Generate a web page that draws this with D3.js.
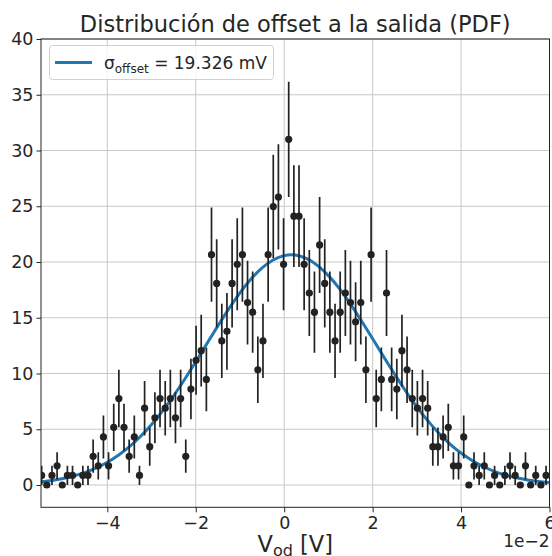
<!DOCTYPE html>
<html><head><meta charset="utf-8">
<script src="https://cdn.jsdelivr.net/npm/d3@7"></script>
<style>
body{margin:0;background:#fff;}
text{font-family:"DejaVu Sans",sans-serif;fill:#262626;}
</style></head>
<body><svg id="chart" width="552" height="556"></svg>
<script>
// Bin centres (mV)
const binCenters = [-54.85,-53.69,-52.52,-51.36,-50.19,-49.03,-47.87,-46.70,-45.54,-44.37,
-43.21,-42.05,-40.88,-39.72,-38.55,-37.39,-36.23,-35.06,-33.90,-32.73,
-31.57,-30.41,-29.24,-28.08,-26.91,-25.75,-24.59,-23.42,-22.26,-21.09,
-19.93,-18.77,-17.60,-16.44,-15.27,-14.11,-12.95,-11.78,-10.62,-9.45,
-8.29,-7.13,-5.96,-4.80,-3.63,-2.47,-1.31,-0.14,1.02,2.19,
3.35,4.51,5.68,6.84,8.01,9.17,10.33,11.50,12.66,13.83,
14.99,16.15,17.32,18.48,19.65,20.81,21.97,23.14,24.30,25.47,
26.63,27.79,28.96,30.12,31.29,32.45,33.61,34.78,35.94,37.11,
38.27,39.43,40.60,41.76,42.93,44.09,45.25,46.42,47.58,48.75,
49.91,51.07,52.24,53.40,54.57,55.73,56.89,58.06,59.22];
// PDF values
const pdfValues = [0.86,0,0.86,1.72,0,0.86,0.86,0,0.86,0.86,
2.58,1.72,4.31,1.72,5.17,7.75,5.17,2.58,4.31,0.86,
6.89,3.44,6.03,7.75,6.89,7.75,6.03,7.75,2.58,8.61,
11.19,12.05,9.47,20.66,18.08,12.92,13.78,18.08,19.80,20.66,
16.36,15.50,10.33,12.92,20.66,24.97,25.83,19.80,31.00,24.11,
24.11,19.80,17.22,15.50,21.53,18.08,15.50,12.92,15.50,17.22,
16.36,14.64,16.36,10.33,20.66,7.75,9.47,17.22,9.47,8.61,
12.05,10.33,7.75,6.89,7.75,6.89,3.44,3.44,4.31,5.17,
1.72,1.72,4.31,0,1.72,0.86,1.72,0,0.86,0,
0.86,1.72,0.86,0,1.72,0,0.86,0,0.86];
// Error bar half-lengths
const pdfErrors = [0.86,0,0.86,1.22,0,0.86,0.86,0,0.86,0.86,
1.49,1.22,1.93,1.22,2.11,2.58,2.11,1.49,1.93,0.86,
2.44,1.72,2.28,2.58,2.44,2.58,2.28,2.58,1.49,2.72,
3.10,3.22,2.86,4.22,3.95,3.33,3.44,3.95,4.13,4.22,
3.75,3.65,2.98,3.33,4.22,4.64,4.72,4.13,5.17,4.56,
4.56,4.13,3.85,3.65,4.31,3.95,3.65,3.33,3.65,3.85,
3.75,3.55,3.75,2.98,4.22,2.58,2.86,3.85,2.86,2.72,
3.22,2.98,2.58,2.44,2.58,2.44,1.72,1.72,1.93,2.11,
1.22,1.22,1.93,0,1.22,0.86,1.22,0,0.86,0,
0.86,1.22,0.86,0,1.22,0,0.86,0,0.86];
// Fitted curve samples (mV, PDF)
const fitX = [-55,-52.5,-50,-47.5,-45,-42.5,-40,-37.5,-35,-32.5,-30,-27.5,-25,-22.5,-20,-17.5,-15,-12.5,-10,-7.5,-5,-2.5,0,2.5,5,7.5,10,12.5,15,17.5,20,22.5,25,27.5,30,32.5,35,37.5,40,42.5,45,47.5,50,52.5,55,57.5,60];
const fitY = [0.283,0.410,0.584,0.819,1.128,1.528,2.035,2.665,3.435,4.351,5.422,6.644,8.005,9.486,11.05,12.67,14.27,15.82,17.24,18.47,19.47,20.18,20.57,20.62,20.32,19.70,18.78,17.61,16.23,14.71,13.12,11.50,9.918,8.409,7.011,5.748,4.636,3.676,2.867,2.198,1.658,1.230,0.897,0.643,0.454,0.315,0.215];
const xTicks = [-40,-20,0,20,40,60];
const yTicks = [0,5,10,15,20,25,30,35,40];
const titleText = "Distribución de offset a la salida (PDF)";
const legendSigma = "19.326 mV";

const svg = d3.select("#chart");
const L = 41, R = 549.5, T = 39, B = 507.3;
const x = d3.scaleLinear().domain([-55, 60]).range([L, R]);
const y = d3.scaleLinear().domain([-2, 40]).range([B, T]);
const minus = s => String(s).replace("-", "\u2212");

// grid
const grid = svg.append("g");
grid.selectAll("line.gx").data(xTicks).join("line")
  .attr("x1", d => x(d)).attr("x2", d => x(d)).attr("y1", T).attr("y2", B)
  .attr("stroke", "#c8c8c8").attr("stroke-width", 1);
grid.selectAll("line.gy").data(yTicks).join("line")
  .attr("x1", L).attr("x2", R).attr("y1", d => y(d)).attr("y2", d => y(d))
  .attr("stroke", "#c8c8c8").attr("stroke-width", 1);

svg.append("clipPath").attr("id", "clip").append("rect")
  .attr("x", L).attr("y", T).attr("width", R - L).attr("height", B - T);
const plot = svg.append("g").attr("clip-path", "url(#clip)");

// fit curve
const fitData = fitX.map((v, i) => [v, fitY[i]]);
plot.append("path").datum(fitData)
  .attr("d", d3.line().x(d => x(d[0])).y(d => y(d[1])).curve(d3.curveNatural))
  .attr("fill", "none").attr("stroke", "#1f77b4").attr("stroke-width", 3);

// error bars and points
const pts = binCenters.map((c, i) => ({x: c, y: pdfValues[i], e: pdfErrors[i]}));
plot.selectAll("line.err").data(pts.filter(d => d.e > 0)).join("line")
  .attr("x1", d => x(d.x)).attr("x2", d => x(d.x))
  .attr("y1", d => y(d.y - d.e)).attr("y2", d => y(d.y + d.e))
  .attr("stroke", "#222").attr("stroke-width", 1.7);
plot.selectAll("circle").data(pts).join("circle")
  .attr("cx", d => x(d.x)).attr("cy", d => y(d.y)).attr("r", 3.6)
  .attr("fill", "#222");

// spines
svg.append("rect").attr("x", L).attr("y", T).attr("width", R - L).attr("height", B - T)
  .attr("fill", "none").attr("stroke", "#262626").attr("stroke-width", 1);

// axes
const xAxis = d3.axisBottom(x).tickValues(xTicks).tickSize(5).tickPadding(4)
  .tickFormat(d => minus(d / 10));
const gx = svg.append("g").attr("transform", `translate(0,${B})`).call(xAxis);
const yAxis = d3.axisLeft(y).tickValues(yTicks).tickSize(4.5).tickPadding(3);
const gy = svg.append("g").attr("transform", `translate(${L},0)`).call(yAxis);
[gx, gy].forEach(g => {
  g.select(".domain").remove();
  g.selectAll(".tick line").attr("stroke", "#262626");
  g.selectAll(".tick text").attr("font-size", 17.5).attr("font-family", "DejaVu Sans").attr("fill", "#262626");
});

// title
svg.append("text").attr("x", (L + R) / 2).attr("y", 32).attr("text-anchor", "middle")
  .attr("font-size", 22.5).text(titleText);

// x label
const xl = svg.append("text").attr("x", (L + R) / 2).attr("y", 552).attr("text-anchor", "middle")
  .attr("font-size", 22.5);
xl.append("tspan").text("V");
xl.append("tspan").attr("font-size", 16).attr("dy", 4).text("od");
xl.append("tspan").attr("dy", -4).text(" [V]");

// offset text
svg.append("text").attr("x", R).attr("y", 547).attr("text-anchor", "end")
  .attr("font-size", 17).text("1e\u22122");

// legend
const lg = svg.append("g");
lg.append("rect").attr("x", 49.5).attr("y", 45.5).attr("width", 224).attr("height", 34)
  .attr("rx", 3).attr("fill", "#fff").attr("fill-opacity", 0.8)
  .attr("stroke", "#d0d0d0").attr("stroke-width", 1);
lg.append("line").attr("x1", 55).attr("x2", 92).attr("y1", 62.5).attr("y2", 62.5)
  .attr("stroke", "#1f77b4").attr("stroke-width", 3);
const lt = lg.append("text").attr("x", 104).attr("y", 68.5).attr("font-size", 17);
lt.append("tspan").text("\u03c3");
lt.append("tspan").attr("font-size", 12).attr("dy", 4).text("offset");
lt.append("tspan").attr("dy", -4).text(" = " + legendSigma);
</script></body></html>
